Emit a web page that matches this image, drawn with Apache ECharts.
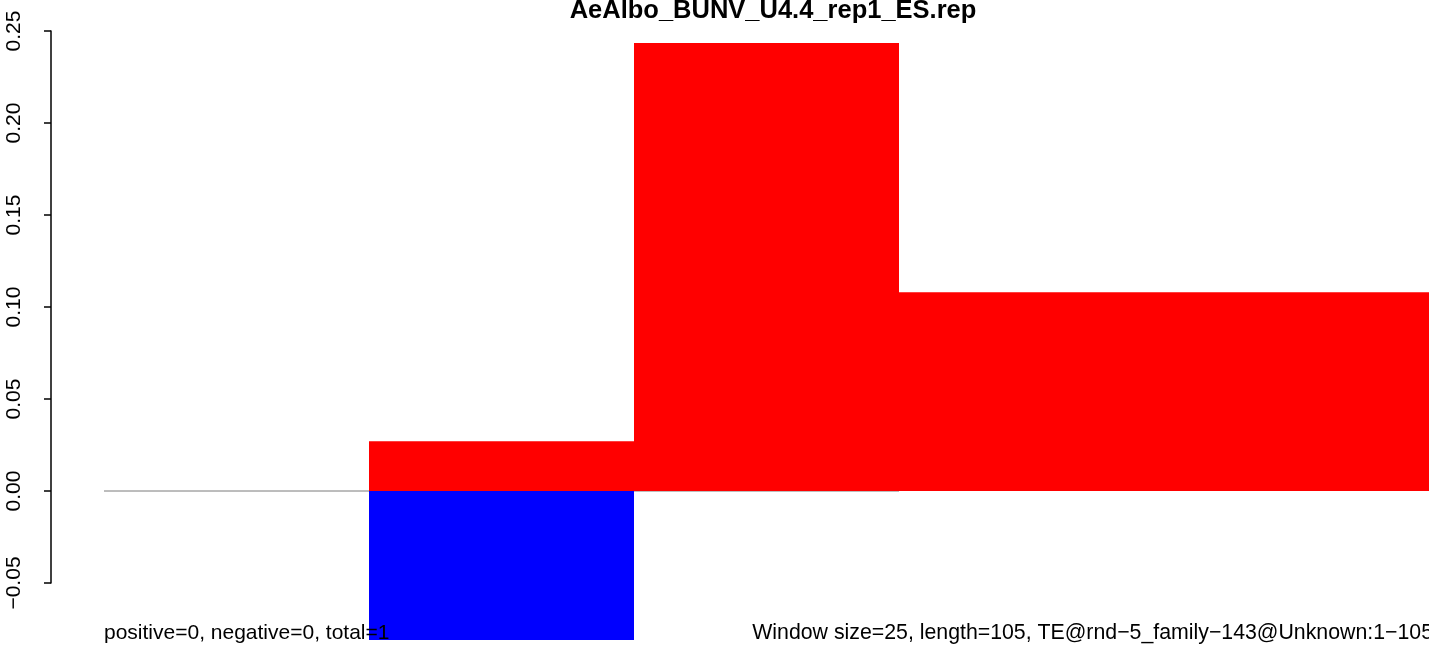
<!DOCTYPE html>
<html>
<head>
<meta charset="utf-8">
<script src="https://cdn.jsdelivr.net/npm/echarts@6/dist/echarts.min.js"></script>
<style>html,body{margin:0;padding:0;background:#fff;}#c{width:1429px;height:645px;}</style>
</head>
<body>
<div id="c"></div>
<script>
// ---- data ----
var titleText = 'AeAlbo_BUNV_U4.4_rep1_ES.rep';
var winStart = [0, 25, 50, 75, 100];
var winEnd = [25, 50, 75, 100, 125];
var posVals = [0, 0.027, 0.2435, 0.108, 0.108];
var negVals = [0, -0.081, 0, 0, 0];
var zeroLineX = [0, 75];
var yTicks = [-0.05, 0, 0.05, 0.10, 0.15, 0.20, 0.25];
var leftNote = 'positive=0, negative=0, total=1';
var rightNote = 'Window size=25, length=105, TE@rnd\u22125_family\u2212143@Unknown:1\u2212105';

var FONT = "'Liberation Sans', Arial, Helvetica, sans-serif";

function rectData(vals) {
  var out = [];
  for (var i = 0; i < vals.length; i++) out.push([winStart[i], winEnd[i], vals[i]]);
  return out;
}
function renderRect(color) {
  return function (params, api) {
    var v = api.value(2);
    if (v === 0) return null;
    var p0 = api.coord([api.value(0), v]);
    var p1 = api.coord([api.value(1), 0]);
    return {
      type: 'rect',
      shape: {
        x: p0[0],
        y: Math.min(p0[1], p1[1]),
        width: p1[0] - p0[0],
        height: Math.abs(p1[1] - p0[1])
      },
      style: { fill: color }
    };
  };
}

var chart = echarts.init(document.getElementById('c'), null, { renderer: 'canvas' });
chart.setOption({
  animation: false,
  backgroundColor: '#fff',
  title: {
    text: titleText,
    left: 768,
    top: -7,
    textAlign: 'center',
    textStyle: { fontFamily: FONT, fontWeight: 'bold', fontSize: 25.5, color: '#000' }
  },
  grid: { left: 104, top: 31, width: 1329, height: 552, containLabel: false },
  xAxis: {
    type: 'value', min: 0, max: 125,
    show: false
  },
  yAxis: {
    type: 'value',
    min: yTicks[0], max: yTicks[yTicks.length - 1], interval: 0.05,
    offset: 53,
    axisLine: { show: true, onZero: false, lineStyle: { color: '#000', width: 1.5 } },
    axisTick: { show: true, length: 7, lineStyle: { color: '#000', width: 1.5 } },
    splitLine: { show: false },
    axisLabel: {
      rotate: 90,
      margin: 26,
      fontFamily: FONT,
      fontSize: 21,
      color: '#000',
      formatter: function (v) {
        return v.toFixed(2).replace('-', '\u2212');
      }
    }
  },
  series: [
    {
      type: 'line',
      data: [[zeroLineX[0], 0], [zeroLineX[1], 0]],
      symbol: 'none',
      lineStyle: { color: '#7a7a7a', width: 1 },
      z: 1,
      silent: true
    },
    {
      type: 'custom',
      renderItem: renderRect('#ff0000'),
      data: rectData(posVals),
      encode: { x: [0, 1], y: 2 },
      clip: false,
      z: 2
    },
    {
      type: 'custom',
      renderItem: renderRect('#0000ff'),
      data: rectData(negVals),
      encode: { x: [0, 1], y: 2 },
      clip: false,
      z: 2
    }
  ],
  graphic: [
    {
      type: 'text', left: 104, bottom: 1, z: 100,
      style: { text: leftNote, font: '21px ' + FONT, fill: '#000' }
    },
    {
      type: 'text', right: -4, bottom: 1, z: 100,
      style: { text: rightNote, font: '21.3px ' + FONT, fill: '#000' }
    }
  ]
});
</script>
</body>
</html>
